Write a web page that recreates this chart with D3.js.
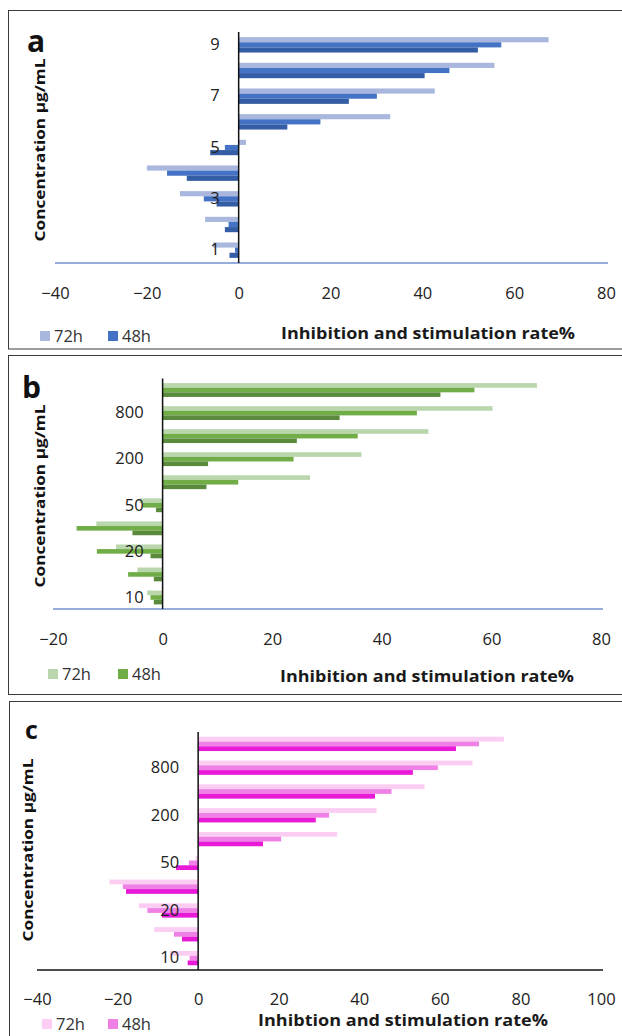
<!DOCTYPE html>
<html>
<head>
<meta charset="utf-8">
<script src="https://cdn.jsdelivr.net/npm/d3@7"></script>
<style>
  html, body { margin: 0; padding: 0; background: #fff; }
  svg { display: block; }
  text { font-family: "Open Sans", "Noto Sans", sans-serif; }
</style>
</head>
<body>
<svg id="chart" width="622" height="1036"></svg>
<script>
// ---- data -------------------------------------------------------------
// Panel a: concentration steps 1..9
const catsA = ["1", "2", "3", "4", "5", "6", "7", "8", "9"];
const a72 = [-5.6, -7.3, -12.8, -20.0, 1.6, 33.0, 42.7, 55.7, 67.5];
const a48 = [-0.8, -2.2, -7.6, -15.6, -3.0, 17.8, 30.1, 45.9, 57.2];
const a24 = [-2.0, -3.0, -4.8, -11.3, -6.2, 10.6, 24.0, 40.5, 52.1];
const ticksA = [-40, -20, 0, 20, 40, 60, 80];

// Panel b: concentrations in µg/mL
const catsB = ["10", "15", "20", "25", "50", "100", "200", "400", "800", "1600"];
const b72 = [-2.8, -4.6, -8.5, -12.1, -4.2, 26.9, 36.3, 48.5, 60.2, 68.3];
const b48 = [-2.2, -6.3, -12.0, -15.7, -3.7, 13.8, 23.9, 35.6, 46.4, 56.9];
const b24 = [-1.6, -1.6, -2.2, -5.5, -1.2, 8.0, 8.3, 24.5, 32.3, 50.7];
const ticksB = [-20, 0, 20, 40, 60, 80];

// Panel c: concentrations in µg/mL
const catsC = ["10", "15", "20", "25", "50", "100", "200", "400", "800", "1600"];
const c72 = [-7.0, -10.9, -14.7, -22.0, -0.6, 34.5, 44.3, 56.2, 68.1, 75.9];
const c48 = [-2.1, -6.0, -12.6, -18.7, -2.3, 20.6, 32.5, 48.0, 59.5, 69.7];
const c24 = [-2.6, -4.0, -9.0, -17.9, -5.5, 16.1, 29.2, 43.9, 53.3, 64.0];
const ticksC = [-40, -20, 0, 20, 40, 60, 80, 100];

const seriesNames = ["72h", "48h", "24h"];
const legendNames = ["72h", "48h"];

// ---- layout -----------------------------------------------------------
const panels = [
  {
    letter: "a", cats: catsA, series: [a72, a48, a24], ticks: ticksA,
    colors: ["#A9B7DE", "#4472C4", "#345DA6"],
    box: { x: 8.5, y: 10.5, w: 620, h: 338.5 },
    xr: [55, 606], yr: [263, 32], baseColor: "#7393D3",
    tickY: 298, letterPos: [27, 52, 30],
    yTitle: { x: 45, y: 150 }, xTitle: { x: 428, y: 339, text: "Inhibition and stimulation rate%" },
    legend: { y: 342, x1: 40, x2: 108 }
  },
  {
    letter: "b", cats: catsB, series: [b72, b48, b24], ticks: ticksB,
    colors: ["#B9D6AD", "#70AD47", "#5A8A3C"],
    box: { x: 8.5, y: 355.5, w: 620, h: 339 },
    xr: [53, 601], yr: [609, 378.5], baseColor: "#7393D3",
    tickY: 644, letterPos: [22, 398, 30],
    yTitle: { x: 45, y: 496 }, xTitle: { x: 427, y: 682, text: "Inhibition and stimulation rate%" },
    legend: { y: 680, x1: 48, x2: 118 }
  },
  {
    letter: "c", cats: catsC, series: [c72, c48, c24], ticks: ticksC,
    colors: ["#FBCDF3", "#EF80E5", "#E81AD8"],
    box: { x: 9.5, y: 701.5, w: 620, h: 400 },
    xr: [37, 601], yr: [970, 732], baseColor: "#111",
    tickY: 1004, letterPos: [25, 739, 25],
    yTitle: { x: 33, y: 850 }, xTitle: { x: 403, y: 1026, text: "Inhibtion and stimulation rate%" },
    legend: { y: 1030, x1: 42, x2: 108 }
  }
];

const svg = d3.select("#chart");

panels.forEach(p => {
  const g = svg.append("g");

  // frame
  g.append("rect")
    .attr("x", p.box.x).attr("y", p.box.y)
    .attr("width", p.box.w).attr("height", p.box.h)
    .attr("fill", "#fff").attr("stroke", "#3a3a3a").attr("stroke-width", 1);

  const domainX = d3.extent(p.ticks);
  const x = d3.scaleLinear().domain(domainX).range(p.xr);
  const y = d3.scaleBand().domain(p.cats).range(p.yr)
    .paddingInner(0.4).paddingOuter(0.2);
  const ySub = d3.scaleBand().domain(seriesNames).range([0, y.bandwidth()]);

  // bars: one row per category, three series stacked inside the band
  const rows = p.cats.map((c, i) => ({ cat: c, vals: p.series.map(s => s[i]) }));
  const rowG = g.selectAll("g.row").data(rows).join("g")
    .attr("class", "row")
    .attr("transform", d => `translate(0,${y(d.cat)})`);
  rowG.selectAll("rect")
    .data(d => d.vals.map((v, k) => ({ v, k })))
    .join("rect")
    .attr("x", d => x(Math.min(0, d.v)))
    .attr("width", d => Math.abs(x(d.v) - x(0)))
    .attr("y", d => ySub(seriesNames[d.k]))
    .attr("height", ySub.bandwidth())
    .attr("fill", d => p.colors[d.k]);

  // horizontal baseline
  g.append("line")
    .attr("x1", p.xr[0]).attr("x2", p.xr[1] + 2)
    .attr("y1", p.yr[0]).attr("y2", p.yr[0])
    .attr("stroke", p.baseColor).attr("stroke-width", 1.6);

  // vertical zero line
  g.append("line")
    .attr("x1", x(0)).attr("x2", x(0))
    .attr("y1", p.yr[1]).attr("y2", p.yr[0])
    .attr("stroke", "#111").attr("stroke-width", 1.5);

  // category labels (every other category)
  const yAxis = d3.axisLeft(y).tickSize(0).tickPadding(19)
    .tickFormat((d, i) => (i % 2 === 0 ? d : ""));
  const ya = g.append("g").attr("transform", `translate(${x(0)},0)`).call(yAxis);
  ya.select(".domain").remove();
  ya.selectAll("text").attr("font-size", 16.5).attr("fill", "#222")
    .attr("font-family", "'Open Sans', sans-serif");

  // value axis tick labels
  const xAxis = d3.axisBottom(x).tickValues(p.ticks).tickSize(0).tickPadding(0)
    .tickFormat(d3.format("d"));
  const xa = g.append("g").attr("transform", `translate(0,${p.tickY - 11})`).call(xAxis);
  xa.select(".domain").remove();
  xa.selectAll("text").attr("font-size", 16.5).attr("fill", "#222")
    .attr("font-family", "'Open Sans', sans-serif");

  // panel letter
  g.append("text")
    .attr("x", p.letterPos[0]).attr("y", p.letterPos[1])
    .attr("font-size", p.letterPos[2]).attr("font-weight", "bold")
    .attr("font-family", "'Liberation Sans', Arial, sans-serif")
    .attr("fill", "#111").text(p.letter);

  // y-axis title
  g.append("text")
    .attr("transform", `translate(${p.yTitle.x},${p.yTitle.y}) rotate(-90)`)
    .attr("text-anchor", "middle")
    .attr("font-size", 14.5).attr("font-weight", "bold").attr("fill", "#111")
    .attr("textLength", 183).attr("lengthAdjust", "spacingAndGlyphs")
    .text("Concentration μg/mL");

  // x-axis title
  g.append("text")
    .attr("x", p.xTitle.x).attr("y", p.xTitle.y)
    .attr("text-anchor", "middle")
    .attr("font-size", 15.5).attr("font-weight", "bold").attr("fill", "#1a1a1a")
    .attr("textLength", p.letter === "c" ? 290 : 294).attr("lengthAdjust", "spacingAndGlyphs")
    .text(p.xTitle.text);

  // legend
  const lg = g.append("g");
  legendNames.forEach((name, k) => {
    const lx = k === 0 ? p.legend.x1 : p.legend.x2;
    lg.append("rect")
      .attr("x", lx).attr("y", p.legend.y - 11)
      .attr("width", 10).attr("height", 10)
      .attr("fill", p.colors[k]);
    lg.append("text")
      .attr("x", lx + 14).attr("y", p.legend.y)
      .attr("font-size", 16.5).attr("fill", "#333")
      .text(name);
  });
});
</script>
</body>
</html>
